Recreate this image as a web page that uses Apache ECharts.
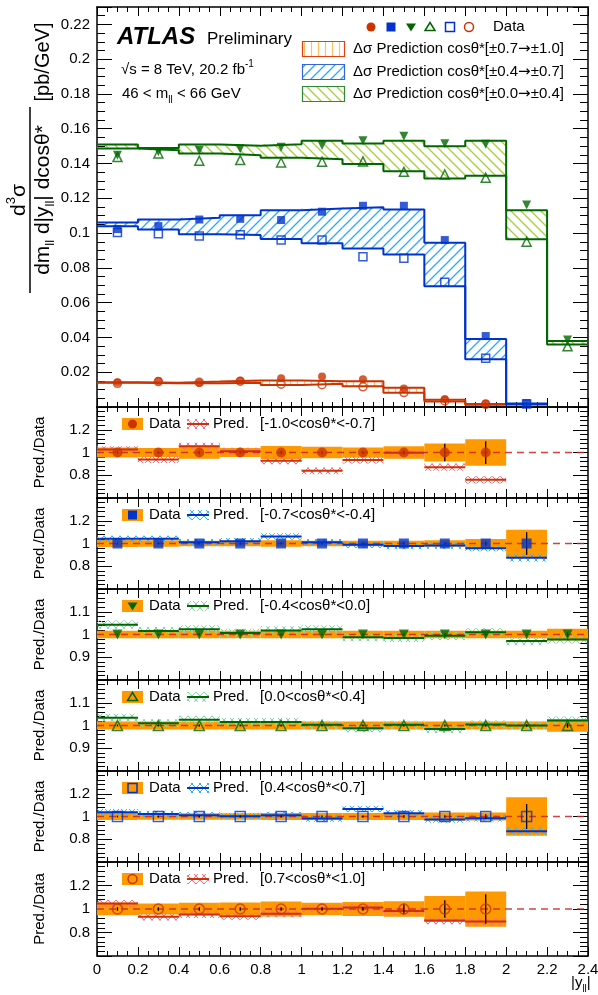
<!DOCTYPE html>
<html>
<head>
<meta charset="utf-8">
<script src="https://cdn.jsdelivr.net/npm/echarts@6/dist/echarts.min.js"></script>
<style>
html, body { margin: 0; padding: 0; background: #fff; }
#chart { width: 598px; height: 995px; }
</style>
</head>
<body>
<div id="chart"></div>
<script>
// bins in |y_ll|
const binEdges = [0, 0.2, 0.4, 0.6, 0.8, 1.0, 1.2, 1.4, 1.6, 1.8, 2.0, 2.2, 2.4];
const binCenters = [0.1, 0.3, 0.5, 0.7, 0.9, 1.1, 1.3, 1.5, 1.7, 1.9, 2.1, 2.3];

// main panel: predictions (band edges) and data, pb/GeV
const predRedNeg = [0.0143, 0.0140, 0.0146, 0.0153, 0.0153, 0.0148, 0.0148, 0.0110, 0.0042, 0.0017];
const predRedPos = [0.0140, 0.0137, 0.0136, 0.0140, 0.0127, 0.0133, 0.0119, 0.0082, 0.0031, 0.0013];
const dataRedNeg = [0.0142, 0.0149, 0.0139, 0.0151, 0.0165, 0.0175, 0.0159, 0.0106, 0.0046, 0.0022];
const dataRedPos = [0.0136, 0.0146, 0.0142, 0.0148, 0.0131, 0.0128, 0.0116, 0.0083, 0.0035, 0.0015];

const predBlueNeg = [0.1061, 0.1078, 0.1088, 0.1103, 0.1132, 0.1142, 0.1149, 0.1136, 0.0944, 0.0391, 0.0020];
const predBluePos = [0.1040, 0.1021, 0.0994, 0.0989, 0.0966, 0.0941, 0.0912, 0.0877, 0.0695, 0.0274, 0.0015];
const dataBlueNeg = [0.1023, 0.1040, 0.1078, 0.1082, 0.1075, 0.1123, 0.1157, 0.1157, 0.0960, 0.0408, 0.0023];
const dataBluePos = [0.1004, 0.0996, 0.0983, 0.0990, 0.0960, 0.0960, 0.0864, 0.0855, 0.0718, 0.0280, 0.0017];

const predGreenNeg = [0.1510, 0.1489, 0.1510, 0.1502, 0.1511, 0.1531, 0.1515, 0.1531, 0.1500, 0.1531, 0.1132, 0.0379];
const predGreenPos = [0.1487, 0.1477, 0.1458, 0.1448, 0.1433, 0.1425, 0.1397, 0.1356, 0.1314, 0.1329, 0.0964, 0.0360];
const dataGreenNeg = [0.1448, 0.1467, 0.1477, 0.1485, 0.1493, 0.1504, 0.1531, 0.1557, 0.1513, 0.1511, 0.1161, 0.0385];
const dataGreenPos = [0.1437, 0.1458, 0.1416, 0.1420, 0.1406, 0.1410, 0.1412, 0.1352, 0.1337, 0.1318, 0.0950, 0.0350];

// ratio panels: Pred./Data, data total unc., data stat unc., prediction unc.
const ratioPred1 = [1.026, 0.938, 1.056, 1.012, 0.927, 0.839, 0.933, 0.997, 0.871, 0.760];
const dataUnc1   = [0.045, 0.040, 0.055, 0.040, 0.058, 0.050, 0.045, 0.055, 0.080, 0.117];
const dataStat1  = [0.010, 0.010, 0.015, 0.010, 0.015, 0.015, 0.015, 0.020, 0.078, 0.100];
const predUnc1   = [0.030, 0.030, 0.030, 0.030, 0.030, 0.030, 0.030, 0.030, 0.032, 0.032];

const ratioPred2 = [1.041, 1.041, 1.012, 1.020, 1.062, 1.012, 0.988, 0.977, 0.982, 0.959, 0.874];
const dataUnc2   = [0.030, 0.028, 0.025, 0.025, 0.028, 0.025, 0.025, 0.025, 0.028, 0.040, 0.120];
const dataStat2  = [0.008, 0.008, 0.008, 0.008, 0.008, 0.008, 0.008, 0.010, 0.010, 0.020, 0.100];
const predUnc2   = [0.028, 0.028, 0.028, 0.028, 0.028, 0.028, 0.028, 0.028, 0.028, 0.028, 0.032];

const ratioPred3 = [1.043, 1.015, 1.023, 1.007, 1.018, 1.023, 0.988, 0.985, 0.994, 1.010, 0.971, 0.978];
const dataUnc3   = [0.017, 0.017, 0.017, 0.017, 0.017, 0.017, 0.017, 0.017, 0.017, 0.017, 0.017, 0.025];
const dataStat3  = [0.004, 0.004, 0.004, 0.004, 0.004, 0.004, 0.004, 0.004, 0.004, 0.004, 0.005, 0.010];
const predUnc3   = [0.018, 0.018, 0.018, 0.018, 0.018, 0.018, 0.018, 0.018, 0.018, 0.018, 0.018, 0.018];

const ratioPred4 = [1.034, 1.010, 1.025, 1.015, 1.015, 1.003, 0.988, 1.003, 0.985, 1.004, 1.000, 1.022];
const dataUnc4   = [0.018, 0.018, 0.018, 0.018, 0.018, 0.018, 0.018, 0.018, 0.018, 0.018, 0.018, 0.027];
const dataStat4  = [0.004, 0.004, 0.004, 0.004, 0.004, 0.004, 0.004, 0.004, 0.004, 0.004, 0.005, 0.010];
const predUnc4   = [0.018, 0.018, 0.018, 0.018, 0.018, 0.018, 0.018, 0.018, 0.018, 0.018, 0.018, 0.018];

const ratioPred5 = [1.038, 1.023, 1.012, 1.003, 1.012, 0.982, 1.067, 1.029, 0.974, 0.985, 0.871];
const dataUnc5   = [0.030, 0.028, 0.028, 0.028, 0.030, 0.030, 0.030, 0.030, 0.035, 0.035, 0.170];
const dataStat5  = [0.008, 0.008, 0.008, 0.008, 0.008, 0.008, 0.008, 0.010, 0.012, 0.020, 0.110];
const predUnc5   = [0.028, 0.028, 0.028, 0.028, 0.028, 0.028, 0.028, 0.028, 0.028, 0.028, 0.032];

const ratioPred6 = [1.047, 0.933, 0.953, 0.938, 0.959, 1.003, 1.012, 0.982, 0.903, 0.894];
const dataUnc6   = [0.054, 0.047, 0.054, 0.055, 0.063, 0.054, 0.060, 0.066, 0.110, 0.150];
const dataStat6  = [0.015, 0.015, 0.015, 0.015, 0.015, 0.015, 0.015, 0.044, 0.075, 0.125];
const predUnc6   = [0.030, 0.030, 0.030, 0.030, 0.030, 0.030, 0.030, 0.030, 0.032, 0.032];

const RED = '#cc3300', BLUE = '#0033cc', GREEN = '#006600', ORANGE = '#ff9900';
const FONT = '"Liberation Sans", Arial, Helvetica, sans-serif';

// hatch patterns drawn on small canvases
function makePattern(kind, color, s, lw) {
  const c = document.createElement('canvas');
  c.width = s; c.height = s;
  const ctx = c.getContext('2d');
  ctx.strokeStyle = color;
  ctx.lineWidth = lw || 1;
  ctx.beginPath();
  if (kind === 'vert') { ctx.moveTo(s / 2, 0); ctx.lineTo(s / 2, s); }
  if (kind === 'fwd' || kind === 'cross') {
    ctx.moveTo(-1, s + 1); ctx.lineTo(s + 1, -1);
    ctx.moveTo(-1, 1); ctx.lineTo(1, -1);
    ctx.moveTo(s - 1, s + 1); ctx.lineTo(s + 1, s - 1);
  }
  if (kind === 'back' || kind === 'cross') {
    ctx.moveTo(-1, -1); ctx.lineTo(s + 1, s + 1);
    ctx.moveTo(s - 1, -1); ctx.lineTo(s + 1, 1);
    ctx.moveTo(-1, s - 1); ctx.lineTo(1, s + 1);
  }
  ctx.stroke();
  return { image: c, repeat: 'repeat' };
}

const hatchRed = makePattern('vert', '#ffbf66', 7, 1.2);
const hatchBlue = makePattern('fwd', '#2aa8ff', 10, 1.3);
const hatchGreen = makePattern('back', '#a4cf40', 10, 1.3);
const crossRed = makePattern('cross', '#ff6a8a', 8, 1);
const crossBlue = makePattern('cross', '#35b4ea', 8, 1);
const crossGreen = makePattern('cross', '#7fd8a6', 8, 1);

// layout
const plotLeft = 97, plotWidth = 491;
const panelTops = [407, 498, 589, 680, 771, 862];
const panelHeights = [91, 91, 91, 91, 91, 94];

const grids = [{ left: plotLeft, top: 7, width: plotWidth, height: 400 }];
panelTops.forEach((t, i) => grids.push({ left: plotLeft, top: t, width: plotWidth, height: panelHeights[i] }));

const xAxes = [], yAxes = [];
function addAxes(g, yMin, yMax, yInt, ySplit, yFmt, showX, yName) {
  const xBase = {
    gridIndex: g, type: 'value', min: 0, max: 2.4, interval: 0.2,
    splitLine: { show: false },
    axisLine: { onZero: false, lineStyle: { color: '#000', width: 1.5 } },
    axisTick: { inside: true, length: 9, lineStyle: { color: '#000', width: 1 } },
    minorTick: { show: true, splitNumber: 4, length: 5, lineStyle: { color: '#000', width: 1 } },
    minorSplitLine: { show: false }
  };
  xAxes.push(Object.assign({}, xBase, {
    position: 'bottom',
    axisLabel: {
      show: showX, color: '#000', fontSize: 15, fontFamily: FONT, margin: 6,
      showMinLabel: true, showMaxLabel: true,
      formatter: v => String(+v.toFixed(1))
    }
  }));
  xAxes.push(Object.assign({}, xBase, { position: 'top', axisLabel: { show: false } }));
  const yBase = {
    gridIndex: g, type: 'value', min: yMin, max: yMax, interval: yInt,
    splitLine: { show: false },
    axisLine: { onZero: false, lineStyle: { color: '#000', width: 1.5 } },
    axisTick: { inside: true, length: 15, lineStyle: { color: '#000', width: 1 } },
    minorTick: { show: true, splitNumber: ySplit, length: 8, lineStyle: { color: '#000', width: 1 } },
    minorSplitLine: { show: false }
  };
  yAxes.push(Object.assign({}, yBase, {
    position: 'left',
    axisLabel: { color: '#000', fontSize: 15, fontFamily: FONT, margin: 7, formatter: yFmt },
    name: yName || '', nameLocation: 'middle', nameGap: 50,
    nameTextStyle: { color: '#000', fontSize: 15, fontFamily: FONT }
  }));
  yAxes.push(Object.assign({}, yBase, { position: 'right', axisLabel: { show: false } }));
}

addAxes(0, 0, 0.23, 0.02, 4, v => (v > 0.001 && v < 0.225) ? String(+v.toFixed(2)) : '', false);
const ratioFmtWide = v => (v > 0.65 && v < 1.35) ? String(+v.toFixed(1)) : '';
const ratioFmtNarrow = v => (v > 0.85 && v < 1.15) ? String(+v.toFixed(1)) : '';

const series = [];

// generic custom drawers
function boxSeries(g, rows, fill, z) {
  series.push({
    type: 'custom', xAxisIndex: 2 * g, yAxisIndex: 2 * g, data: rows, z: z, clip: true, silent: true,
    encode: { x: [0, 1], y: [2, 3] },
    renderItem: (params, api) => {
      const a = api.coord([api.value(0), api.value(3)]);
      const b = api.coord([api.value(1), api.value(2)]);
      return { type: 'rect', shape: { x: a[0], y: a[1], width: b[0] - a[0], height: b[1] - a[1] }, style: { fill: fill } };
    }
  });
}
function hlineSeries(g, rows, stroke, width, z) {
  series.push({
    type: 'custom', xAxisIndex: 2 * g, yAxisIndex: 2 * g, data: rows, z: z, clip: true, silent: true,
    encode: { x: [0, 1], y: 2 },
    renderItem: (params, api) => {
      const a = api.coord([api.value(0), api.value(2)]);
      const b = api.coord([api.value(1), api.value(2)]);
      return { type: 'line', shape: { x1: a[0], y1: a[1], x2: b[0], y2: b[1] }, style: { stroke: stroke, lineWidth: width } };
    }
  });
}
function vlineSeries(g, rows, stroke, width, z) {
  series.push({
    type: 'custom', xAxisIndex: 2 * g, yAxisIndex: 2 * g, data: rows, z: z, clip: true, silent: true,
    encode: { x: 0, y: [1, 2] },
    renderItem: (params, api) => {
      const a = api.coord([api.value(0), api.value(1)]);
      const b = api.coord([api.value(0), api.value(2)]);
      return { type: 'line', shape: { x1: a[0], y1: a[1], x2: b[0], y2: b[1] }, style: { stroke: stroke, lineWidth: width } };
    }
  });
}
function stepLine(g, vals, color, width, z) {
  const data = vals.map((v, i) => [binEdges[i], v]);
  data.push([binEdges[vals.length], vals[vals.length - 1]]);
  series.push({
    type: 'line', step: 'end', xAxisIndex: 2 * g, yAxisIndex: 2 * g, data: data, symbol: 'none',
    lineStyle: { color: color, width: width }, z: z, silent: true, animation: false
  });
}
function markerSeries(g, pts, shape, color, open, size) {
  series.push({
    type: 'scatter', xAxisIndex: 2 * g, yAxisIndex: 2 * g, data: pts, z: 10, silent: true,
    symbol: shape === 'tridown' ? 'triangle' : shape,
    symbolRotate: shape === 'tridown' ? 180 : 0,
    symbolSize: size,
    itemStyle: open ? { color: 'rgba(255,255,255,0)', borderColor: color, borderWidth: 1.5 } : { color: color, borderWidth: 0 }
  });
}

// main panel bands
function band(lo, hi, fill, color) {
  boxSeries(0, lo.map((v, i) => [binEdges[i], binEdges[i + 1], Math.min(v, hi[i]), Math.max(v, hi[i])]), fill, 2);
  stepLine(0, lo, color, 2, 3);
  stepLine(0, hi, color, 2, 3);
}
band(predRedPos, predRedNeg, hatchRed, RED);
band(predBluePos, predBlueNeg, hatchBlue, BLUE);
band(predGreenPos, predGreenNeg, hatchGreen, GREEN);

const toPts = vals => vals.map((v, i) => [binCenters[i], v]);
markerSeries(0, toPts(dataRedNeg), 'circle', RED, false, 8);
markerSeries(0, toPts(dataBlueNeg), 'rect', BLUE, false, 8);
markerSeries(0, toPts(dataGreenNeg), 'tridown', GREEN, false, 9);
markerSeries(0, toPts(dataGreenPos), 'triangle', GREEN, true, 9);
markerSeries(0, toPts(dataBluePos), 'rect', BLUE, true, 8);
markerSeries(0, toPts(dataRedPos), 'circle', RED, true, 8);

// ratio panels
const panels = [
  { label: '[-1.0<cosθ*<-0.7]', color: RED, shape: 'circle', open: false, pred: ratioPred1, unc: dataUnc1, stat: dataStat1, punc: predUnc1, cross: crossRed, wide: true },
  { label: '[-0.7<cosθ*<-0.4]', color: BLUE, shape: 'rect', open: false, pred: ratioPred2, unc: dataUnc2, stat: dataStat2, punc: predUnc2, cross: crossBlue, wide: true },
  { label: '[-0.4<cosθ*<0.0]', color: GREEN, shape: 'tridown', open: false, pred: ratioPred3, unc: dataUnc3, stat: dataStat3, punc: predUnc3, cross: crossGreen, wide: false },
  { label: '[0.0<cosθ*<0.4]', color: GREEN, shape: 'triangle', open: true, pred: ratioPred4, unc: dataUnc4, stat: dataStat4, punc: predUnc4, cross: crossGreen, wide: false },
  { label: '[0.4<cosθ*<0.7]', color: BLUE, shape: 'rect', open: true, pred: ratioPred5, unc: dataUnc5, stat: dataStat5, punc: predUnc5, cross: crossBlue, wide: true },
  { label: '[0.7<cosθ*<1.0]', color: RED, shape: 'circle', open: true, pred: ratioPred6, unc: dataUnc6, stat: dataStat6, punc: predUnc6, cross: crossRed, wide: true }
];

const graphic = [];

function legendMarker(shape, cx, cy, color, open, s) {
  const style = open ? { fill: 'none', stroke: color, lineWidth: 1.5 } : { fill: color };
  const h = s / 2;
  if (shape === 'circle') return { type: 'circle', shape: { cx: cx, cy: cy, r: h }, style: style, z: 20 };
  if (shape === 'rect') return { type: 'rect', shape: { x: cx - h, y: cy - h, width: s, height: s }, style: style, z: 20 };
  if (shape === 'tridown') return { type: 'polygon', shape: { points: [[cx - h - 0.5, cy - h + 1], [cx + h + 0.5, cy - h + 1], [cx, cy + h]] }, style: style, z: 20 };
  return { type: 'polygon', shape: { points: [[cx - h - 0.5, cy + h - 1], [cx + h + 0.5, cy + h - 1], [cx, cy - h]] }, style: style, z: 20 };
}
function txt(x, y, text, size, extra) {
  return Object.assign({
    type: 'text', x: x, y: y, z: 20,
    style: Object.assign({ text: text, fill: '#000', fontSize: size, fontFamily: FONT, align: 'left', verticalAlign: 'middle', textAlign: 'left', textVerticalAlign: 'middle' }, (extra && extra.style) || {})
  }, extra && extra.rotation !== undefined ? { rotation: extra.rotation } : {});
}

panels.forEach((p, k) => {
  const g = k + 1;
  if (p.wide) addAxes(g, 0.6, 1.4, 0.2, 5, ratioFmtWide, g === 6, 'Pred./Data');
  else addAxes(g, 0.8, 1.2, 0.1, 5, ratioFmtNarrow, false, 'Pred./Data');
  const n = p.pred.length;
  const idx = p.pred.map((v, i) => i);
  boxSeries(g, idx.map(i => [binEdges[i], binEdges[i + 1], 1 - p.unc[i], 1 + p.unc[i]]), ORANGE, 2);
  boxSeries(g, idx.map(i => [binEdges[i], binEdges[i + 1], p.pred[i] - p.punc[i], p.pred[i] + p.punc[i]]), p.cross, 3);
  series.push({
    type: 'line', xAxisIndex: 2 * g, yAxisIndex: 2 * g, data: [[0, 1], [2.4, 1]], symbol: 'none', silent: true, z: 4,
    lineStyle: { color: 'rgba(204,34,34,0.85)', width: 1.3, type: [7, 5] }
  });
  hlineSeries(g, idx.map(i => [binEdges[i], binEdges[i + 1], p.pred[i]]), p.color, 2, 5);
  vlineSeries(g, idx.map(i => [binCenters[i], 1 - p.stat[i], 1 + p.stat[i]]), '#000', 1.3, 6);
  markerSeries(g, binCenters.slice(0, n).map(x => [x, 1]), p.shape, p.color, p.open, 10);

  // per-panel legend
  const cy = panelTops[k] + 17;
  graphic.push({ type: 'rect', shape: { x: 122, y: cy - 6, width: 21, height: 12 }, style: { fill: ORANGE }, z: 19 });
  graphic.push(legendMarker(p.shape, 132.5, cy, p.color, p.open, 9));
  graphic.push(txt(149, cy, 'Data', 15));
  graphic.push({ type: 'rect', shape: { x: 187, y: cy - 5, width: 22, height: 10 }, style: { fill: p.cross }, z: 19 });
  graphic.push({ type: 'line', shape: { x1: 187, y1: cy, x2: 209, y2: cy }, style: { stroke: p.color, lineWidth: 2 }, z: 20 });
  graphic.push(txt(213, cy, 'Pred.', 15));
  graphic.push(txt(260, cy, p.label, 15));
});

// main panel legend
const richSS = {
  b: { fontSize: 15, fontFamily: FONT, lineHeight: 22, verticalAlign: 'middle' },
  a: { fontSize: 15, fontFamily: '"DejaVu Sans", sans-serif', lineHeight: 22, verticalAlign: 'middle' },
  sp: { fontSize: 10, fontFamily: FONT, lineHeight: 11, verticalAlign: 'top' },
  sb: { fontSize: 10, fontFamily: FONT, lineHeight: 10, verticalAlign: 'bottom' }
};
graphic.push(txt(117, 37, 'ATLAS', 24, { style: { fontWeight: 'bold', fontStyle: 'italic' } }));
graphic.push(txt(207, 39, 'Preliminary', 17));
graphic.push(txt(121, 70, '{b|√s = 8 TeV, 20.2 fb}{sp|-1}', 15, { style: { rich: richSS } }));
graphic.push(txt(122, 94, '{b|46 < m}{sb|ll}{b| < 66 GeV}', 15, { style: { rich: richSS } }));

const legMarks = [
  ['circle', 371, RED, false], ['rect', 391, BLUE, false], ['tridown', 411, GREEN, false],
  ['triangle', 430, GREEN, true], ['rect', 450, BLUE, true], ['circle', 469, RED, true]
];
legMarks.forEach(m => graphic.push(legendMarker(m[0], m[1], 27, m[2], m[3], 9)));
graphic.push(txt(493, 27, 'Data', 15));

const legBands = [
  [41, hatchRed, '#e04010', '±0.7', '±1.0'],
  [64, hatchBlue, '#3366dd', '±0.4', '±0.7'],
  [86, hatchGreen, '#338833', '±0.0', '±0.4']
];
legBands.forEach(b => {
  graphic.push({ type: 'rect', shape: { x: 302.5, y: b[0] + 0.5, width: 42, height: 15 }, style: { fill: b[1], stroke: b[2], lineWidth: 1.2 }, z: 19 });
  graphic.push(txt(353, b[0] + 8, '{b|Δσ Prediction cosθ*[' + b[3] + '}{a|→}{b|' + b[4] + ']}', 15, { style: { rich: richSS } }));
});

// main y-axis title (rotated fraction)
const richT = {
  b: { fontSize: 21, fontFamily: FONT, lineHeight: 28, verticalAlign: 'middle' },
  sp: { fontSize: 13, fontFamily: FONT, lineHeight: 14, verticalAlign: 'top' },
  sb: { fontSize: 13, fontFamily: FONT, lineHeight: 12, verticalAlign: 'bottom' }
};
const rot = Math.PI / 2;
graphic.push(txt(19, 200, '{b|d}{sp|3}{b|σ}', 21, { rotation: rot, style: { rich: richT, align: 'center', textAlign: 'center' } }));
graphic.push({ type: 'line', shape: { x1: 30, y1: 107, x2: 30, y2: 293 }, style: { stroke: '#000', lineWidth: 1.5 }, z: 20 });
graphic.push(txt(43, 200, '{b|dm}{sb|ll}{b| d|y}{sb|ll}{b|| dcosθ*}', 21, { rotation: rot, style: { rich: richT, align: 'center', textAlign: 'center' } }));
graphic.push(txt(43, 62, '[pb/GeV]', 20, { rotation: rot, style: { align: 'center', textAlign: 'center' } }));

// x-axis title
graphic.push(txt(571, 983, '{b||y}{sb|ll}{b||}', 15, { style: { rich: richSS } }));

const chart = echarts.init(document.getElementById('chart'), null, { renderer: 'canvas' });
chart.setOption({
  animation: false,
  backgroundColor: '#fff',
  grid: grids.map(g => Object.assign({ outerBoundsMode: 'none', containLabel: false }, g)),
  xAxis: xAxes,
  yAxis: yAxes,
  series: series,
  graphic: { elements: graphic }
});
</script>
</body>
</html>
